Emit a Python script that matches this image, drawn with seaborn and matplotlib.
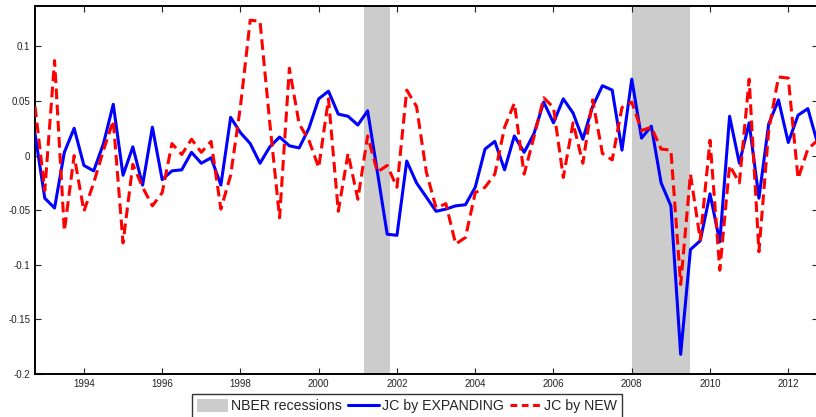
import numpy as np
import pandas as pd
import matplotlib
matplotlib.use("Agg")
import matplotlib.pyplot as plt
import seaborn as sns
from matplotlib.patches import Patch
from matplotlib.lines import Line2D

# ---- data (quarterly, 1992Q4 .. 2012Q4) ----
start_year = 1992.75
jc_expanding = [
    0.020, -0.039, -0.048, 0.003, 0.025, -0.009, -0.014, 0.011, 0.047, -0.018,
    0.008, -0.027, 0.026, -0.022, -0.014, -0.013, 0.003, -0.007, -0.002, -0.027,
    0.035, 0.021, 0.011, -0.007, 0.008, 0.017, 0.009, 0.007, 0.025, 0.052,
    0.059, 0.038, 0.036, 0.028, 0.041, -0.015, -0.072, -0.073, -0.005, -0.025,
    -0.038, -0.051, -0.049, -0.046, -0.045, -0.029, 0.006, 0.013, -0.013, 0.018,
    0.003, 0.020, 0.049, 0.030, 0.052, 0.039, 0.015, 0.045, 0.064, 0.060,
    0.005, 0.070, 0.016, 0.027, -0.025, -0.046, -0.182, -0.086, -0.078, -0.035,
    -0.079, 0.036, -0.007, 0.030, -0.039, 0.029, 0.051, 0.012, 0.037, 0.043,
    0.011,
]
jc_new = [
    0.045, -0.032, 0.087, -0.069, 0.000, -0.051, -0.025, 0.005, 0.032, -0.080,
    -0.008, -0.029, -0.046, -0.034, 0.011, 0.001, 0.015, 0.003, 0.013, -0.049,
    -0.018, 0.045, 0.124, 0.123, 0.030, -0.057, 0.080, 0.029, 0.014, -0.011,
    0.052, -0.051, 0.002, -0.040, 0.018, -0.015, -0.009, -0.029, 0.060, 0.045,
    -0.015, -0.048, -0.044, -0.081, -0.075, -0.034, -0.029, -0.017, 0.026, 0.048,
    -0.017, 0.017, 0.053, 0.044, -0.020, 0.030, -0.007, 0.051, 0.002, -0.004,
    0.044, 0.049, 0.023, 0.026, 0.006, 0.005, -0.118, -0.017, -0.077, 0.014,
    -0.105, -0.009, -0.025, 0.070, -0.088, 0.023, 0.072, 0.071, -0.021, 0.006,
    0.014,
]
recessions = [(2001.167, 2001.833), (2008.0, 2009.5)]
x_ticks = [1994, 1996, 1998, 2000, 2002, 2004, 2006, 2008, 2010, 2012]
y_ticks = [-0.2, -0.15, -0.1, -0.05, 0, 0.05, 0.1]
y_tick_labels = ["-0.2", "-0.15", "-0.1", "-0.05", "0", "0.05", "0.1"]
labels = ["NBER recessions", "JC by EXPANDING", "JC by NEW"]

dates = start_year + 0.25 * np.arange(len(jc_expanding))
df = pd.DataFrame({"date": dates, "exp": jc_expanding, "new": jc_new})

sns.set_theme(style="white")
plt.rcParams["font.family"] = ["Liberation Sans", "DejaVu Sans"]

fig = plt.figure(figsize=(8.16, 4.17), dpi=100)
ax = fig.add_axes([35 / 816, 1 - 374 / 417, 1 - 35 / 816 + 0.002, (374 - 6) / 417])

for a, b in recessions:
    ax.axvspan(a, b, color="#cccccc", lw=0, zorder=0)

sns.lineplot(data=df, x="date", y="exp", ax=ax, color="#0000ff", lw=2.2, zorder=3)
sns.lineplot(data=df, x="date", y="new", ax=ax, color="#ff0000", lw=2.2,
             zorder=4, dashes=False, linestyle=(0, (3.5, 1.8)))

ax.set_xlim(1992.75, 2012.75)
ax.set_ylim(-0.2, 0.137)
ax.set_xticks(x_ticks)
ax.set_xticklabels([str(t) for t in x_ticks])
ax.set_yticks(y_ticks)
ax.set_yticklabels(y_tick_labels)
ax.set_xlabel("")
ax.set_ylabel("")
ax.tick_params(direction="in", length=4, width=0.8, labelsize=7,
               top=True, right=True, bottom=True, left=True, colors="#222222",
               labelcolor="#222222")
for s in ax.spines.values():
    s.set_visible(True)
    s.set_color("black")
    s.set_linewidth(1.4)

handles = [
    Patch(facecolor="#cccccc", edgecolor="none"),
    Line2D([], [], color="#0000ff", lw=2.2),
    Line2D([], [], color="#ff0000", lw=2.2, linestyle=(0, (2.2, 1.5))),
]
leg = fig.legend(handles, labels, loc="center", bbox_to_anchor=(407 / 816, 1 - 406 / 417),
                 ncol=3, fontsize=10.2, frameon=True, fancybox=False,
                 handlelength=2.2, handleheight=1.0, handletextpad=0.2,
                 columnspacing=0.45, borderpad=0.35, borderaxespad=0.2)
leg.get_frame().set_edgecolor("black")
leg.get_frame().set_linewidth(1.0)

fig.savefig("out.png", dpi=100)
